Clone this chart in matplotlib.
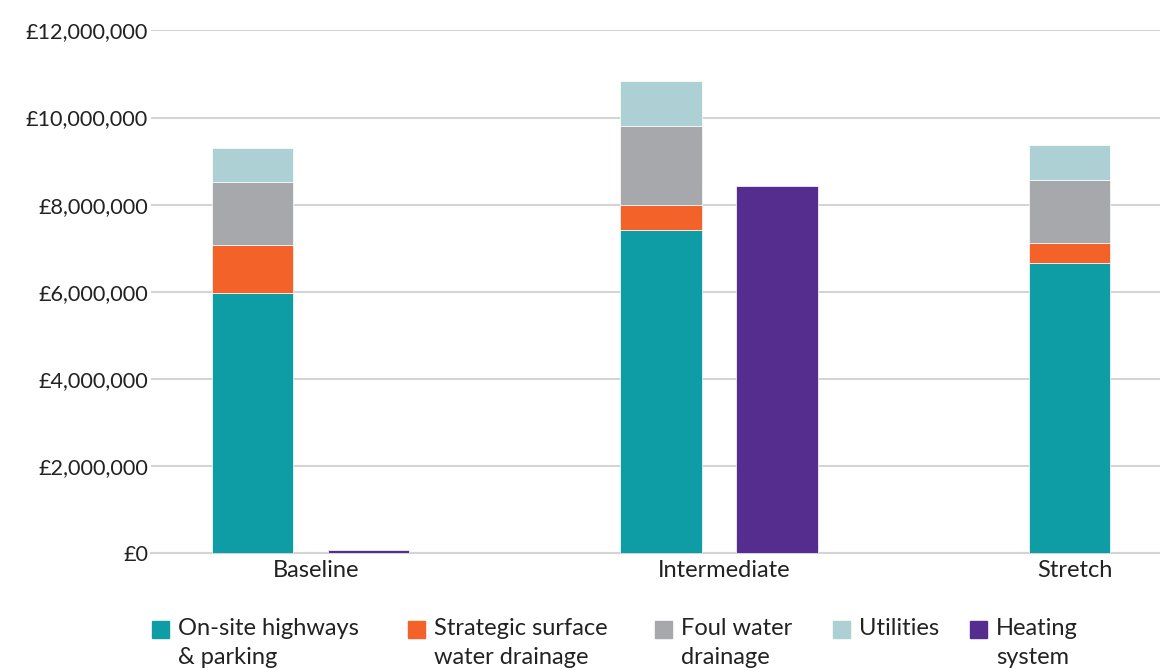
import matplotlib
matplotlib.use("Agg")
import matplotlib.pyplot as plt
from matplotlib.patches import Rectangle
from matplotlib.ticker import FuncFormatter
import numpy as np

plt.rcParams['font.family'] = ['Lato', 'DejaVu Sans']

scenarios = ["Baseline", "Intermediate", "Stretch"]

# Infrastructure costs (GBP)
highways = [5_970_000, 7_410_000, 6_650_000]
surface_drainage = [1_100_000, 580_000, 480_000]
foul_drainage = [1_450_000, 1_820_000, 1_440_000]
utilities = [790_000, 1_030_000, 790_000]
heating = [80_000, 8_430_000, 0]

stack_series = [
    ("On-site highways\n& parking", highways, "#0E9DA5"),
    ("Strategic surface\nwater drainage", surface_drainage, "#F26229"),
    ("Foul water\ndrainage", foul_drainage, "#A7A8AB"),
    ("Utilities", utilities, "#ADD0D4"),
]
heating_series = ("Heating\nsystem", heating, "#552D8F")

fig = plt.figure(figsize=(11.6, 6.7), dpi=100)
ax = fig.add_axes([0.130, 0.1746, 0.870, 0.780])

x = np.arange(len(scenarios))
width = 0.199
offset = 0.142

bottom = np.zeros(len(scenarios))
for name, vals, col in stack_series:
    vals = np.array(vals, dtype=float)
    ax.bar(x - offset, vals, width, bottom=bottom, color=col,
           edgecolor="white", linewidth=0.5, zorder=3)
    bottom += vals

hvals = np.array(heating_series[1], dtype=float)
ax.bar(x + offset, hvals, width, color=heating_series[2],
       edgecolor="white", linewidth=0.5, zorder=3)

# Category label sits under the group, or under the stack when there is no heating bar
tick_pos = [xi + 0.013 if h > 0 else xi - offset + 0.013 for xi, h in zip(x, hvals)]
ax.set_xticks(tick_pos)
ax.set_xticklabels(scenarios, fontsize=17, color="#222222")

ax.set_xlim(-0.392, 2.08)
ax.set_ylim(0, 12_000_000)
ax.set_yticks(np.arange(0, 12_000_001, 2_000_000))
ax.yaxis.set_major_formatter(FuncFormatter(lambda v, p: f"£{v:,.0f}"))
for lab in ax.get_yticklabels():
    lab.set_fontsize(15.6)
    lab.set_color("#222222")

ax.grid(axis="y", color="#D4D4D4", linewidth=1.5, zorder=0)
ax.tick_params(axis="x", length=0, pad=5)
ax.tick_params(axis="y", length=0, pad=2)
for side in ["top", "right", "left"]:
    ax.spines[side].set_visible(False)
ax.spines["bottom"].set_color("#D4D4D4")
ax.spines["bottom"].set_linewidth(1.5)

# Legend drawn along the bottom
legend_items = stack_series + [heating_series]
legend_x = [152, 408, 655, 833, 970]
sq = 17
for (name, _, col), lx in zip(legend_items, legend_x):
    top_px = 621
    fig.add_artist(Rectangle((lx / 1160, 1 - (top_px + sq) / 670), sq / 1160, sq / 670,
                             transform=fig.transFigure, color=col))
    fig.text((lx + 26) / 1160, 1 - 618 / 670, name, fontsize=17, color="#222222",
             va="top", ha="left", linespacing=1.48)

fig.savefig("out.png", dpi=100)
